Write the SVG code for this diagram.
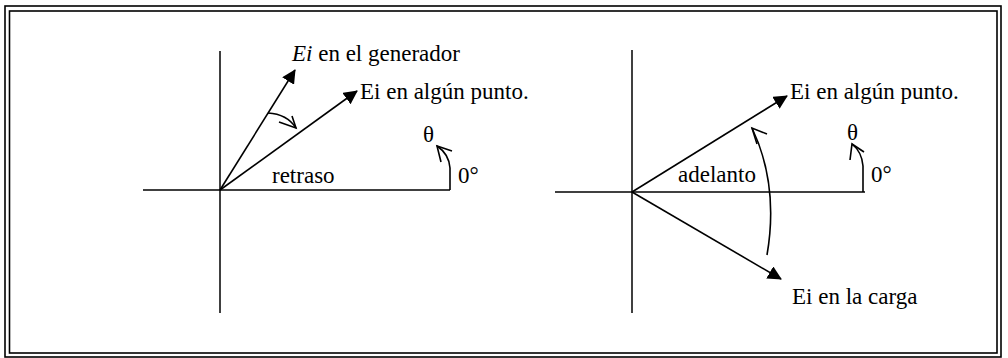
<svg xmlns="http://www.w3.org/2000/svg" width="1008" height="358" viewBox="0 0 1008 358">
<style>
.ln{stroke:#000;stroke-width:1.6;fill:none}
.ax{stroke:#000;stroke-width:1.5;fill:none}
</style>
<defs>
<marker id="big" viewBox="0 0 14 14" refX="13" refY="7" markerWidth="14" markerHeight="14" markerUnits="userSpaceOnUse" orient="auto">
<path d="M0,0 L14,7 L0,14 Z" fill="#000"/>
</marker>
</defs>
<g id="frame">
<rect x="5" y="6" width="996" height="351" fill="none" stroke="#000" stroke-width="1.6"/>
<rect x="9.5" y="11" width="987.5" height="342" fill="none" stroke="#000" stroke-width="1.6"/>
</g>
<g id="connectors">
<line class="ax" x1="143" y1="190" x2="450" y2="190"/>
<line class="ax" x1="220" y1="51" x2="220" y2="313"/>
<line class="ln" x1="220" y1="190" x2="295" y2="70" marker-end="url(#big)"/>
<line class="ln" x1="220" y1="190" x2="357" y2="91" marker-end="url(#big)"/>
<path class="ln" d="M268,113 Q287,114 296,128"/>
<path class="ln" d="M279,122 L296,128 L292,116"/>
<path class="ln" d="M450,190 L450,168 Q449,154 437,146"/>
<path class="ln" d="M452,151 L437,146 L441,162"/>
<line class="ax" x1="555" y1="192" x2="865" y2="192"/>
<line class="ax" x1="632" y1="50" x2="632" y2="313"/>
<line class="ln" x1="632" y1="192" x2="787" y2="96" marker-end="url(#big)"/>
<line class="ln" x1="632" y1="192" x2="781" y2="279" marker-end="url(#big)"/>
<path class="ln" d="M767,255 Q779,185 752,128"/>
<path class="ln" d="M767,134 L752,128 L757,144"/>
<path class="ln" d="M863,192 L863,166 Q862,152 852,144"/>
<path class="ln" d="M864,152 L852,144 L850,160"/>
</g>
<g id="left-labels" font-family="Liberation Serif, serif" font-size="23" fill="#000">
<text x="292" y="61"><tspan font-style="italic">Ei</tspan> en el generador</text>
<text x="360" y="99">Ei en algún punto.</text>
<text x="272" y="183">retraso</text>
<text x="423" y="142">θ</text>
<text x="458" y="183">0°</text>
</g>
<g id="right-labels" font-family="Liberation Serif, serif" font-size="23" fill="#000">
<text x="790" y="99">Ei en algún punto.</text>
<text x="792" y="304">Ei en la carga</text>
<text x="678" y="182">adelanto</text>
<text x="847" y="140">θ</text>
<text x="871" y="182">0°</text>
</g>
</svg>
